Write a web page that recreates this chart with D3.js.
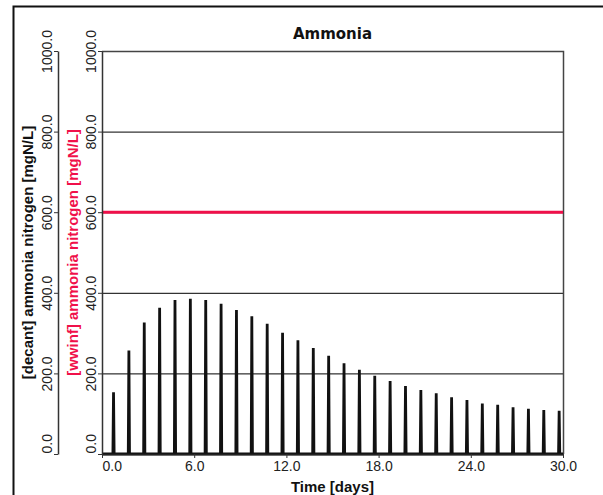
<!DOCTYPE html>
<html>
<head>
<meta charset="utf-8">
<script src="https://cdn.jsdelivr.net/npm/d3@7"></script>
<style>
  body { margin: 0; background: #fff; }
  svg text { font-family: "Liberation Sans", Arial, sans-serif; }
</style>
</head>
<body>
<div id="chart"></div>
<script>
/////// DATA

// decant happens once a cycle, a narrow spike each time
const spikeTimes = [0.75, 1.75, 2.75, 3.75, 4.75, 5.75, 6.75, 7.75, 8.75, 9.75,
  10.75, 11.75, 12.75, 13.75, 14.75, 15.75, 16.75, 17.75, 18.75, 19.75,
  20.75, 21.75, 22.75, 23.75, 24.75, 25.75, 26.75, 27.75, 28.75, 29.75];
const decantPeaks = [153, 257, 326, 363, 382, 385, 382, 373, 357, 342,
  323, 301, 282, 263, 244, 225, 209, 194, 181, 169,
  159, 151, 141, 134, 125, 122, 116, 112, 109, 107];

// influent is constant
const wwinfTimes = [0, 30];
const wwinfValues = [600, 600];

const xTicks = [0, 6, 12, 18, 24, 30];
const yTicks = [0, 200, 400, 600, 800, 1000];
const gridValues = [200, 400, 600, 800];

const redColor = "#f0104a";

/////// BUILD LINE SERIES (zero between spikes)

const halfWidth = 0.04; // spike half width in days
const decantSeries = [{ t: 0, v: 0 }];
spikeTimes.forEach((t, i) => {
  decantSeries.push({ t: t - halfWidth, v: 0 });
  decantSeries.push({ t: t, v: decantPeaks[i] });
  decantSeries.push({ t: t + halfWidth, v: 0 });
});
decantSeries.push({ t: 30, v: 0 });

const wwinfSeries = wwinfTimes.map((t, i) => ({ t: t, v: wwinfValues[i] }));

/////// MAKE CHART

const width = 603;
const height = 495;
const plot = { left: 102, right: 563, top: 51, bottom: 454 };
const decantAxisX = 58;

const svg = d3.select("#chart")
  .append("svg")
  .attr("width", width)
  .attr("height", height);

// outer frame
svg.append("rect")
  .attr("x", 13.5)
  .attr("y", 6.5)
  .attr("width", 620)
  .attr("height", 520)
  .attr("fill", "none")
  .attr("stroke", "#111")
  .attr("stroke-width", 2);

const x = d3.scaleLinear().domain([0, 30]).range([plot.left, plot.right]);
const y = d3.scaleLinear().domain([0, 1000]).range([plot.bottom, plot.top]);

// grid lines
svg.append("g")
  .selectAll("line")
  .data(gridValues)
  .join("line")
  .attr("x1", plot.left)
  .attr("x2", plot.right)
  .attr("y1", d => y(d) + 0.5)
  .attr("y2", d => y(d) + 0.5)
  .attr("stroke", "#000")
  .attr("stroke-width", 1);

// plot border top and right
svg.append("path")
  .attr("d", `M${plot.left},${plot.top + 0.5}H${plot.right + 0.5}V${plot.bottom}`)
  .attr("fill", "none")
  .attr("stroke", "#444")
  .attr("stroke-width", 1.5);

// wwinf series (red)
const line = d3.line()
  .x(d => x(d.t))
  .y(d => y(d.v));

svg.append("path")
  .datum(wwinfSeries)
  .attr("d", line)
  .attr("fill", "none")
  .attr("stroke", redColor)
  .attr("stroke-width", 3);

// decant series (black spikes)
svg.append("path")
  .datum(decantSeries)
  .attr("d", line)
  .attr("fill", "none")
  .attr("stroke", "#111")
  .attr("stroke-width", 2.8)
  .attr("stroke-linejoin", "miter");

// rotate y tick labels like the original, lowest label sits above its tick
function styleYAxis(g) {
  g.select(".domain").attr("stroke", "#333").attr("stroke-width", 1.5);
  g.selectAll(".tick line").attr("stroke", "#333");
  g.selectAll(".tick text")
    .attr("transform", "rotate(-90)")
    .attr("x", d => d === 0 ? 1 : 0)
    .attr("y", -6)
    .attr("dy", 0)
    .style("text-anchor", d => d === 0 ? "start" : "middle")
    .style("font-size", "14px")
    .attr("fill", "#222");
}

// wwinf axis on the plot edge
svg.append("g")
  .attr("transform", `translate(${plot.left},0)`)
  .call(d3.axisLeft(y).tickValues(yTicks).tickFormat(d3.format(".1f")).tickSize(4).tickSizeOuter(0))
  .call(g => styleYAxis(g));

// decant axis further left
svg.append("g")
  .attr("transform", `translate(${decantAxisX},0)`)
  .call(d3.axisLeft(y).tickValues(yTicks).tickFormat(d3.format(".1f")).tickSize(4).tickSizeOuter(0))
  .call(g => styleYAxis(g));

// x axis, first label starts at its tick
const xAxis = svg.append("g")
  .attr("transform", `translate(0,${plot.bottom})`)
  .call(d3.axisBottom(x).tickValues(xTicks).tickFormat(d3.format(".1f")).tickSize(4).tickSizeOuter(0));
xAxis.select(".domain").attr("stroke", "#222").attr("stroke-width", 1.5);
xAxis.selectAll(".tick line").attr("stroke", "#333");
xAxis.selectAll(".tick text")
  .attr("y", 17)
  .attr("dy", 0)
  .style("text-anchor", d => d === 0 ? "start" : "middle")
  .style("font-size", "14px")
  .attr("fill", "#222");

// titles
const midX = (plot.left + plot.right) / 2;
const midY = (plot.top + plot.bottom) / 2;

svg.append("text")
  .attr("x", midX)
  .attr("y", 39)
  .attr("text-anchor", "middle")
  .style("font-family", "'DejaVu Sans', sans-serif")
  .style("font-size", "15px")
  .style("font-weight", "bold")
  .attr("fill", "#111")
  .text("Ammonia");

svg.append("text")
  .attr("x", midX)
  .attr("y", 492)
  .attr("text-anchor", "middle")
  .style("font-size", "15px")
  .style("font-weight", "bold")
  .attr("fill", "#111")
  .text("Time [days]");

svg.append("text")
  .attr("transform", `translate(33,${midY}) rotate(-90)`)
  .attr("text-anchor", "middle")
  .style("font-size", "15px")
  .style("font-weight", "bold")
  .attr("fill", "#111")
  .text("[decant] ammonia nitrogen [mgN/L]");

svg.append("text")
  .attr("transform", `translate(78,${midY}) rotate(-90)`)
  .attr("text-anchor", "middle")
  .style("font-size", "15px")
  .style("font-weight", "bold")
  .attr("fill", redColor)
  .text("[wwinf] ammonia nitrogen [mgN/L]");
</script>
</body>
</html>
